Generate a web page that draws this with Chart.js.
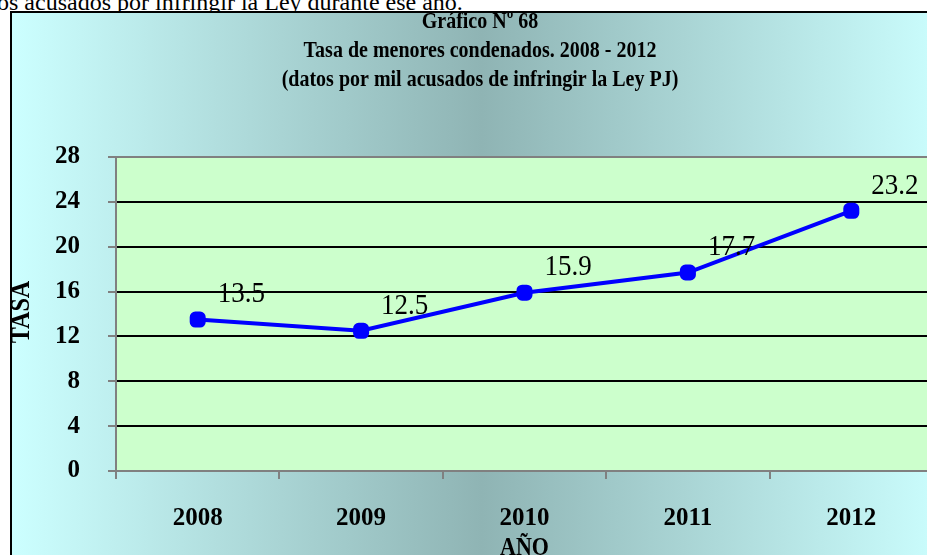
<!DOCTYPE html>
<html>
<head>
<meta charset="utf-8">
<script src="https://cdn.jsdelivr.net/npm/chart.js@4"></script>
<style>
body { margin: 0; width: 927px; height: 555px; overflow: hidden; background: #fff; position: relative; font-family: "Liberation Serif", serif; }
#intro { position: absolute; left: -3px; top: -10px; font-size: 24px; line-height: 24px; white-space: nowrap; color: #000; }
#frame { position: absolute; left: 10px; top: 11px; width: 940px; height: 560px; border: 2px solid #000; overflow: hidden;
  background: linear-gradient(to right, #ccffff 0%, #8fb4b4 50%, #ccffff 100%); }
#chart { position: absolute; left: 0; top: 0; }
</style>
</head>
<body>
<div id="intro">os acusados por infringir la Ley durante ese año.</div>
<div id="frame"><canvas id="chart" width="940" height="560"></canvas></div>
<script>
// Data
const years = ['2008', '2009', '2010', '2011', '2012'];
const tasa = [13.5, 12.5, 15.9, 17.7, 23.2];
const yTicks = [0, 4, 8, 12, 16, 20, 24, 28];
const titleLines = ['Gráfico Nº 68', 'Tasa de menores condenados. 2008 - 2012', '(datos por mil acusados de infringir la Ley PJ)'];
const yTitle = 'TASA';
const xTitle = 'AÑO';

const serif = '"Liberation Serif", "Times New Roman", serif';
const gray = '#808080';

// text a bit taller than wide, like the original
function tallText(ctx, txt, x, y, sy) {
    ctx.save();
    ctx.translate(x, y);
    ctx.scale(1, sy);
    ctx.fillText(txt, 0, 0);
    ctx.restore();
}

// Green plot background
const plotBg = {
    id: 'plotBg',
    beforeDraw(chart) {
        const { ctx, chartArea: a } = chart;
        ctx.save();
        ctx.fillStyle = '#ccffcc';
        ctx.fillRect(a.left, a.top, a.right - a.left, a.bottom - a.top);
        ctx.restore();
    }
};

// Titles and value labels
const texts = {
    id: 'texts',
    afterDraw(chart) {
        const { ctx, chartArea: a } = chart;
        ctx.save();
        ctx.fillStyle = '#000';
        ctx.textBaseline = 'middle';

        ctx.font = 'bold 20px ' + serif;
        ctx.textAlign = 'center';
        titleLines.forEach((t, i) => tallText(ctx, t, 468, 9 + i * 29, 1.2));

        ctx.font = 'bold 22px ' + serif;
        tallText(ctx, xTitle, (a.left + a.right) / 2, 535, 1.15);
        ctx.save();
        ctx.translate(10, 299);
        ctx.rotate(-Math.PI / 2);
        ctx.scale(1.05, 1.2);
        ctx.font = 'bold 23px ' + serif;
        ctx.fillText(yTitle, 0, 0);
        ctx.restore();

        ctx.font = '27px ' + serif;
        ctx.textAlign = 'left';
        const meta = chart.getDatasetMeta(0);
        meta.data.forEach((pt, i) => {
            tallText(ctx, tasa[i].toFixed(1), pt.x + 20, pt.y - 25, 1.1);
        });
        ctx.restore();
    }
};

const ctx = document.getElementById('chart').getContext('2d');
const chart = new Chart(ctx, {
    type: 'line',
    data: {
        labels: years,
        datasets: [{
            data: tasa,
            borderColor: '#0000ff',
            backgroundColor: '#0000ff',
            borderWidth: 4,
            pointStyle: 'rectRounded',
            pointRadius: 7,
            pointHoverRadius: 7,
            fill: false,
            tension: 0
        }]
    },
    options: {
        responsive: false,
        animation: false,
        layout: { padding: { top: 144, right: 19, left: 0, bottom: 0 } },
        plugins: { legend: { display: false }, tooltip: { enabled: false }, title: { display: false } },
        scales: {
            x: {
                offset: true,
                grid: { offset: true, drawOnChartArea: false, tickLength: 8, tickColor: gray, lineWidth: 2 },
                border: { color: gray, width: 2 },
                ticks: { color: '#000', font: { family: serif, size: 25, weight: 'bold' }, padding: 25 },
                afterFit: s => { s.height = 102; }
            },
            y: {
                min: 0,
                max: 28,
                afterBuildTicks: s => { s.ticks = yTicks.map(v => ({ value: v })); },
                grid: {
                    color: c => (c.tick && (c.tick.value === 0 || c.tick.value === 28)) ? gray : '#000',
                    lineWidth: 2,
                    tickLength: 8,
                    tickColor: gray
                },
                border: { color: gray, width: 2 },
                ticks: { color: '#000', font: { family: serif, size: 25, weight: 'bold' }, padding: 28 },
                afterFit: s => { s.width = 104; }
            }
        }
    },
    plugins: [plotBg, texts]
});
</script>
</body>
</html>
